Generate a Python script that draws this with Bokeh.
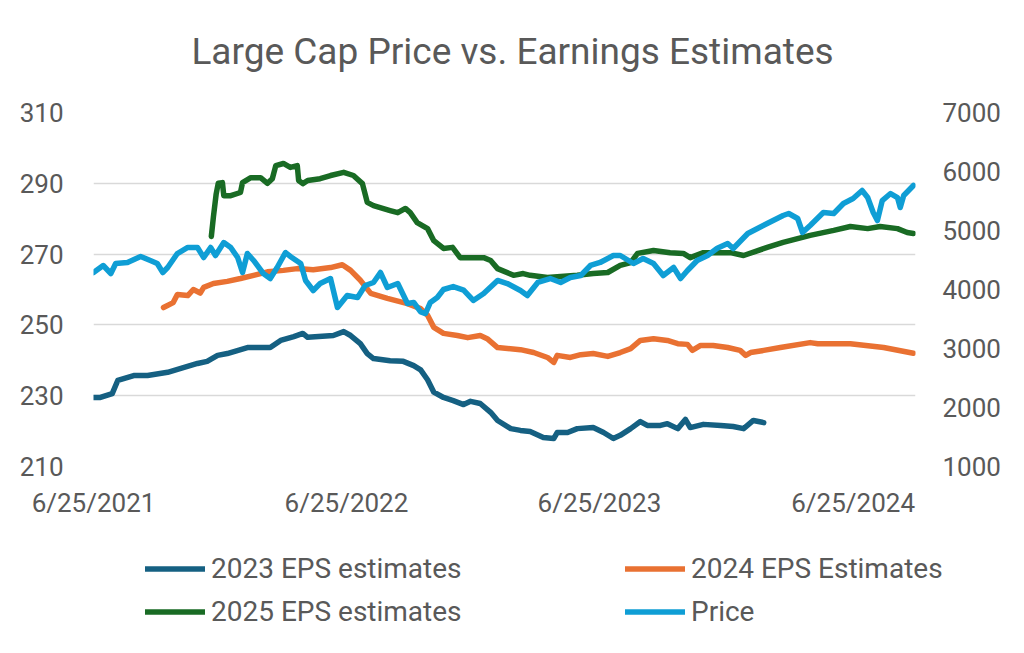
import pandas as pd
from bokeh.plotting import figure
from bokeh.layouts import column
from bokeh.models import (Range1d, LinearAxis, FixedTicker, CustomJSTickFormatter,
                          Legend, LegendItem, Label)
from bokeh.embed import file_html
from bokeh.resources import INLINE

# ---------------- data ----------------
eps2023_dates = ["2021-06-25", "2021-07-05", "2021-07-22", "2021-07-30", "2021-08-22", "2021-09-11",
                 "2021-10-10", "2021-10-29", "2021-11-22", "2021-12-06", "2021-12-21", "2022-01-04",
                 "2022-02-02", "2022-03-07", "2022-03-22", "2022-04-10", "2022-04-23", "2022-04-30",
                 "2022-06-06", "2022-06-21", "2022-07-01", "2022-07-15", "2022-07-25", "2022-08-03",
                 "2022-08-27", "2022-09-15", "2022-09-30", "2022-10-10", "2022-10-20", "2022-10-29",
                 "2022-11-12", "2022-11-26", "2022-12-11", "2022-12-21", "2023-01-04", "2023-01-19",
                 "2023-01-29", "2023-02-17", "2023-03-03", "2023-03-17", "2023-04-05", "2023-04-20",
                 "2023-04-25", "2023-05-10", "2023-05-24", "2023-06-16", "2023-07-01", "2023-07-15",
                 "2023-07-25", "2023-08-09", "2023-08-23", "2023-09-02", "2023-09-21", "2023-10-01",
                 "2023-10-16", "2023-10-27", "2023-11-03", "2023-11-22", "2023-12-17", "2024-01-04",
                 "2024-01-19", "2024-02-02", "2024-02-17"]
eps2023_values = [229.5, 229.5, 230.6, 234.3, 235.7, 235.7,
                  236.6, 237.7, 239.1, 239.7, 241.4, 241.9,
                  243.6, 243.6, 245.6, 246.7, 247.6, 246.5,
                  247.0, 248.1, 247.0, 244.7, 241.9, 240.5,
                  239.9, 239.7, 238.5, 237.3, 234.5, 231.0,
                  229.5, 228.6, 227.5, 228.4, 227.8, 225.3,
                  223.0, 220.7, 220.2, 219.9, 218.2, 217.9,
                  219.6, 219.6, 220.7, 221.0, 219.6, 217.9,
                  218.8, 220.7, 222.7, 221.6, 221.6, 222.1,
                  220.7, 223.3, 221.0, 221.9, 221.6, 221.3,
                  220.7, 223.0, 222.4]

eps2024_dates = ["2021-10-04", "2021-10-18", "2021-10-24", "2021-11-08", "2021-11-16", "2021-11-26",
                 "2021-12-01", "2021-12-15", "2022-01-04", "2022-01-23", "2022-02-11", "2022-03-03",
                 "2022-03-26", "2022-04-15", "2022-05-08", "2022-06-02", "2022-06-19", "2022-07-01",
                 "2022-07-15", "2022-07-30", "2022-08-23", "2022-09-21", "2022-10-10", "2022-10-20",
                 "2022-10-29", "2022-11-12", "2022-12-02", "2022-12-17", "2023-01-04", "2023-01-14",
                 "2023-01-29", "2023-03-03", "2023-03-22", "2023-04-11", "2023-04-20", "2023-04-25",
                 "2023-05-14", "2023-05-29", "2023-06-16", "2023-07-07", "2023-07-25", "2023-08-09",
                 "2023-08-23", "2023-09-11", "2023-10-01", "2023-10-16", "2023-10-30", "2023-11-06",
                 "2023-11-18", "2023-12-06", "2023-12-27", "2024-01-14", "2024-01-22", "2024-01-29",
                 "2024-02-17", "2024-03-12", "2024-04-24", "2024-05-05", "2024-06-21", "2024-08-08",
                 "2024-09-20"]
eps2024_values = [254.9, 256.3, 258.6, 258.3, 260.0, 259.0,
                  260.6, 261.7, 262.3, 263.1, 264.0, 265.0,
                  265.4, 265.9, 265.6, 266.2, 267.0, 265.4,
                  262.6, 258.9, 257.5, 256.0, 254.6, 252.7,
                  249.3, 247.6, 247.0, 246.4, 247.0, 246.1,
                  243.6, 243.0, 242.2, 240.8, 239.4, 241.4,
                  240.8, 241.6, 241.9, 241.1, 242.2, 243.3,
                  245.6, 246.1, 245.6, 244.7, 244.5, 242.8,
                  244.2, 244.2, 243.6, 242.8, 241.4, 242.2,
                  242.8, 243.6, 245.0, 244.7, 244.7, 243.6,
                  242.0]

eps2025_dates = ["2021-12-12", "2021-12-15", "2021-12-19", "2021-12-22", "2021-12-28", "2021-12-30",
                 "2022-01-09", "2022-01-23", "2022-01-26", "2022-02-07", "2022-02-21", "2022-03-03",
                 "2022-03-10", "2022-03-15", "2022-03-26", "2022-04-05", "2022-04-15", "2022-04-17",
                 "2022-04-23", "2022-04-30", "2022-05-18", "2022-06-02", "2022-06-21", "2022-07-05",
                 "2022-07-18", "2022-07-25", "2022-08-03", "2022-08-27", "2022-09-07", "2022-09-18",
                 "2022-09-25", "2022-10-05", "2022-10-20", "2022-10-29", "2022-11-12", "2022-11-25",
                 "2022-12-06", "2023-01-09", "2023-01-19", "2023-01-29", "2023-02-21", "2023-03-07",
                 "2023-03-17", "2023-04-11", "2023-04-30", "2023-05-24", "2023-06-16", "2023-07-07",
                 "2023-07-25", "2023-08-09", "2023-08-19", "2023-09-11", "2023-10-05", "2023-10-24",
                 "2023-11-03", "2023-11-22", "2023-12-31", "2024-01-19", "2024-02-22", "2024-03-16",
                 "2024-04-24", "2024-05-28", "2024-06-21", "2024-07-16", "2024-08-03", "2024-08-28",
                 "2024-09-11", "2024-09-20"]
eps2025_values = [275.0, 280.5, 287.0, 290.0, 290.2, 286.5,
                  286.5, 287.4, 290.2, 291.6, 291.6, 290.0,
                  291.3, 295.0, 295.6, 294.5, 295.0, 290.8,
                  289.9, 290.8, 291.3, 292.2, 293.1, 292.2,
                  289.9, 284.6, 283.7, 282.3, 281.7, 282.9,
                  281.7, 278.9, 277.2, 273.8, 271.6, 271.9,
                  269.0, 269.0, 268.2, 265.9, 264.0, 264.5,
                  264.0, 263.4, 263.7, 264.0, 264.5, 264.8,
                  266.8, 267.6, 270.2, 271.0, 270.4, 270.2,
                  269.0, 270.4, 270.4, 269.6, 271.9, 273.3,
                  275.3, 276.7, 277.8, 277.2, 277.8, 277.2,
                  276.1, 275.8]

price_dates = ["2021-06-25", "2021-07-09", "2021-07-20", "2021-07-27", "2021-08-13", "2021-09-01",
               "2021-09-15", "2021-09-25", "2021-10-03", "2021-10-10", "2021-10-24", "2021-11-08",
               "2021-11-22", "2021-12-01", "2021-12-11", "2021-12-18", "2021-12-30", "2022-01-09",
               "2022-01-19", "2022-01-26", "2022-02-02", "2022-02-11", "2022-02-25", "2022-03-07",
               "2022-03-17", "2022-03-29", "2022-04-05", "2022-04-20", "2022-04-27", "2022-05-08",
               "2022-05-18", "2022-06-02", "2022-06-12", "2022-06-26", "2022-07-11", "2022-07-22",
               "2022-08-03", "2022-08-13", "2022-08-23", "2022-09-07", "2022-09-21", "2022-09-30",
               "2022-10-10", "2022-10-17", "2022-10-24", "2022-11-03", "2022-11-12", "2022-11-26",
               "2022-12-11", "2022-12-25", "2023-01-09", "2023-01-29", "2023-02-12", "2023-03-03",
               "2023-03-13", "2023-03-28", "2023-04-15", "2023-04-30", "2023-05-14", "2023-05-29",
               "2023-06-12", "2023-06-26", "2023-07-15", "2023-07-25", "2023-08-13", "2023-08-27",
               "2023-09-11", "2023-09-25", "2023-10-10", "2023-10-20", "2023-10-30", "2023-11-13",
               "2023-11-28", "2023-12-12", "2023-12-27", "2024-01-04", "2024-01-25", "2024-02-08",
               "2024-02-22", "2024-03-16", "2024-03-24", "2024-04-06", "2024-04-13", "2024-04-24",
               "2024-05-13", "2024-05-28", "2024-06-11", "2024-06-25", "2024-07-08", "2024-07-16",
               "2024-07-24", "2024-07-30", "2024-08-06", "2024-08-18", "2024-08-28", "2024-09-01",
               "2024-09-06", "2024-09-20"]
price_values = [4288, 4407, 4271, 4441, 4458, 4560,
                4492, 4441, 4288, 4373, 4610, 4712,
                4712, 4542, 4712, 4576, 4796, 4712,
                4542, 4288, 4610, 4492, 4271, 4186,
                4373, 4627, 4560, 4441, 4153, 3983,
                4101, 4186, 3695, 3898, 3864, 4068,
                4119, 4288, 4034, 4101, 3763, 3780,
                3620, 3593, 3780, 3864, 4000, 4050,
                3990, 3814, 3932, 4153, 4101, 3983,
                3898, 4119, 4186, 4119, 4203, 4237,
                4407, 4458, 4576, 4576, 4441, 4526,
                4441, 4237, 4373, 4186, 4322, 4492,
                4576, 4700, 4780, 4695, 4949, 5034,
                5119, 5254, 5288, 5203, 4966, 5085,
                5305, 5288, 5458, 5542, 5678, 5559,
                5305, 5169, 5508, 5627, 5559, 5390,
                5593, 5763]

x_tick_dates = ["2021-06-25", "2022-06-25", "2023-06-25", "2024-06-25"]
left_ticks = [210, 230, 250, 270, 290, 310]
right_ticks = [1000, 2000, 3000, 4000, 5000, 6000, 7000]
x_start, x_end = "2021-06-25", "2024-09-23"

title_text = "Large Cap Price vs. Earnings Estimates"
series_labels = ["2023 EPS estimates", "2024 EPS Estimates", "2025 EPS estimates", "Price"]
series_colors = ["#156082", "#E97132", "#196B24", "#0F9ED5"]

FONT = "Roboto"
TXT = "#595959"
LW = 5.5

series = [(eps2023_dates, eps2023_values, "default"),
          (eps2024_dates, eps2024_values, "default"),
          (eps2025_dates, eps2025_values, "default"),
          (price_dates, price_values, "price")]

# ---------------- title strip ----------------
TH = 80
pt = figure(width=1024, height=TH, x_range=Range1d(0, 1024), y_range=Range1d(0, TH),
            x_axis_location=None, y_axis_location=None,
            output_backend="svg", toolbar_location=None, frame_align=False,
            min_border_left=0, min_border_right=0, min_border_top=0, min_border_bottom=0)
pt.outline_line_color = None
pt.xgrid.visible = False
pt.ygrid.visible = False
pt.add_layout(Label(x=512, y=29, text=title_text, text_align="center",
                    text_baseline="alphabetic", text_font=FONT, text_font_size="37px",
                    text_color=TXT))

# ---------------- main figure ----------------
p = figure(width=1024, height=460, x_axis_type="datetime",
           x_range=Range1d(pd.Timestamp(x_start), pd.Timestamp(x_end)),
           y_range=Range1d(left_ticks[0], left_ticks[-1]),
           output_backend="svg", toolbar_location=None,
           min_border_left=93, min_border_right=109, min_border_top=112 - TH, min_border_bottom=74)
p.outline_line_color = None
p.background_fill_color = "white"
p.border_fill_color = "white"

p.extra_y_ranges = {"price": Range1d(right_ticks[0], right_ticks[-1])}
raxis = LinearAxis(y_range_name="price", ticker=FixedTicker(ticks=right_ticks))
p.add_layout(raxis, "right")

for ax in [p.yaxis[0], raxis]:
    ax.axis_line_color = None
    ax.major_tick_line_color = None
    ax.minor_tick_line_color = None
    ax.major_label_text_font = FONT
    ax.major_label_text_font_size = "26px"
    ax.major_label_text_color = TXT
    ax.major_label_standoff = 24
p.yaxis[0].ticker = FixedTicker(ticks=left_ticks)
raxis.major_label_standoff = 21

xa = p.xaxis[0]
xa.ticker = FixedTicker(ticks=[pd.Timestamp(d).value / 1e6 for d in x_tick_dates])
xa.formatter = CustomJSTickFormatter(code="""
const d = new Date(tick);
return (d.getUTCMonth() + 1) + "/" + d.getUTCDate() + "/" + d.getUTCFullYear();
""")
xa.axis_line_color = None
xa.major_tick_line_color = None
xa.minor_tick_line_color = None
xa.major_label_text_font = FONT
xa.major_label_text_font_size = "26px"
xa.major_label_text_color = TXT
xa.major_label_standoff = 15

p.xgrid.grid_line_color = None
p.ygrid.grid_line_color = "#D9D9D9"
p.ygrid.grid_line_width = 1.5

for (d, v, rng), col in zip(series, series_colors):
    p.line(x=pd.to_datetime(d), y=v, line_width=LW, line_color=col,
           line_join="round", line_cap="round", y_range_name=rng)

# ---------------- legend strip ----------------
LH = 113
pl = figure(width=1024, height=LH, x_range=Range1d(0, 1), y_range=Range1d(0, 1),
            x_axis_location=None, y_axis_location=None,
            output_backend="svg", toolbar_location=None, frame_align=False,
            min_border_left=0, min_border_right=0, min_border_top=0, min_border_bottom=0)
pl.outline_line_color = None
pl.xgrid.visible = False
pl.ygrid.visible = False

items = []
for (d, v, rng), lab, col in zip(series, series_labels, series_colors):
    # same series, but outside this strip's (empty) view: only the legend swatch shows
    r = pl.line(x=pd.to_datetime(d), y=v, line_width=LW, line_color=col,
                line_join="round", line_cap="round")
    items.append(LegendItem(label=lab, renderers=[r]))

legend = Legend(items=items, orientation="horizontal", ncols=2, location=(145, 25),
                label_text_font=FONT, label_text_font_size="28px", label_text_color=TXT,
                glyph_width=60, glyph_height=25, label_height=25, label_width=404,
                label_standoff=6, spacing=10, padding=0, margin=0,
                border_line_color=None, background_fill_alpha=0)
pl.add_layout(legend)

layout = column(pt, p, pl, spacing=0)
open("out.html", "w").write(file_html(layout, INLINE))
